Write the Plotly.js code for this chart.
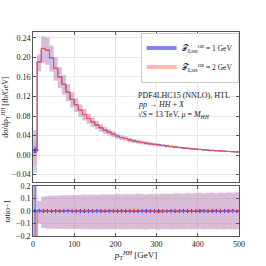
<!DOCTYPE html>
<html><head><meta charset="utf-8">
<script src="https://cdn.plot.ly/plotly-3.0.1.min.js"></script>
<style>html,body{margin:0;padding:0;background:#fff}#chart{width:266px;height:266px}</style>
</head><body><div id="chart"></div>
<script>
const binEdges = [0,10,20,30,40,50,60,70,80,90,100,110,120,130,140,150,160,170,180,190,200,210,220,230,240,250,260,270,280,290,300,310,320,330,340,350,360,370,380,390,400,410,420,430,440,450,460,470,480,490,500];
const blueVals = [0.0103,0.191,0.218,0.215,0.199,0.178,0.160,0.145,0.129,0.114,0.103,0.092,0.083,0.075,0.068,0.062,0.056,0.051,0.047,0.043,0.039,0.036,0.034,0.031,0.029,0.0275,0.026,0.0245,0.023,0.022,0.021,0.0198,0.0187,0.0176,0.0166,0.0157,0.0148,0.0139,0.0131,0.0123,0.0116,0.0109,0.0102,0.0096,0.0090,0.0085,0.0080,0.0075,0.0070,0.0065];
const redVals = [0.0060,0.1902,0.2186,0.2146,0.1998,0.1775,0.1603,0.1450,0.1285,0.1143,0.1031,0.0918,0.0833,0.0749,0.0681,0.0618,0.0560,0.0512,0.0469,0.0430,0.0392,0.0359,0.0341,0.0310,0.0291,0.02765,0.02595,0.0243,0.02302,0.02205,0.02075,0.01985,0.01873,0.01755,0.01668,0.01571,0.01474,0.01398,0.01308,0.01235,0.01172,0.01087,0.01023,0.00968,0.00895,0.00853,0.00798,0.00756,0.00697,0.00652];
const bandUp = [4.0,0.08,0.115,0.12,0.122,0.124,0.125,0.126,0.127,0.128,0.128,0.129,0.13,0.13,0.131,0.131,0.132,0.132,0.133,0.133,0.134,0.134,0.135,0.135,0.135,0.136,0.136,0.137,0.137,0.137,0.138,0.138,0.139,0.139,0.14,0.14,0.141,0.141,0.142,0.142,0.143,0.143,0.144,0.145,0.145,0.146,0.147,0.147,0.148,0.149];
const bandDn = [-4.5,-0.10,-0.135,-0.14,-0.141,-0.142,-0.142,-0.143,-0.143,-0.143,-0.144,-0.144,-0.144,-0.144,-0.145,-0.145,-0.145,-0.145,-0.145,-0.145,-0.145,-0.145,-0.145,-0.145,-0.145,-0.145,-0.145,-0.145,-0.145,-0.145,-0.145,-0.145,-0.145,-0.145,-0.145,-0.145,-0.145,-0.145,-0.145,-0.145,-0.145,-0.145,-0.145,-0.145,-0.145,-0.145,-0.145,-0.145,-0.145,-0.145];
const blueRatioErr = [1.0,0.004,0.003,0.003,0.003,0.003,0.003,0.003,0.003,0.003,0.003,0.003,0.003,0.003,0.003,0.003,0.003,0.003,0.003,0.003,0.003,0.003,0.003,0.003,0.003,0.003,0.003,0.003,0.003,0.003,0.003,0.003,0.003,0.003,0.003,0.003,0.003,0.003,0.003,0.003,0.003,0.003,0.003,0.003,0.003,0.003,0.003,0.003,0.003,0.003];
const legendLabels = ["𝒯<sub>0,res</sub><sup>cut</sup> = 1 GeV","𝒯<sub>0,res</sub><sup>cut</sup> = 2 GeV"];
const mainTicks = [-0.04,0.00,0.04,0.08,0.12,0.16,0.20,0.24];
const ratioTicks = [-0.2,-0.1,0.0,0.1,0.2];
const xTicks = [0,100,200,300,400,500];

const BLUE = '#3a3aff', RED = '#ff5a3c';
const BLUE_FILL = 'rgba(100,100,240,0.30)', RED_FILL = 'rgba(240,140,130,0.28)';
const FONT = 'Liberation Serif, DejaVu Serif, serif';

const step = a => a.concat([a[a.length-1]]);
const centers = binEdges.slice(0,-1).map((e,i)=> (e+binEdges[i+1])/2);
const blueRatio = blueVals.map(()=>0);
const redRatio = redVals.map((v,i)=> v/blueVals[i]-1);

function band(vals, xa, ya, fill){
  const lo = vals.map((v,i)=> v*(1+bandDn[i]));
  const hi = vals.map((v,i)=> v*(1+bandUp[i]));
  return [
    {x:binEdges, y:step(lo), xaxis:xa, yaxis:ya, mode:'lines', line:{width:0, shape:'hv'}, showlegend:false, hoverinfo:'skip'},
    {x:binEdges, y:step(hi), xaxis:xa, yaxis:ya, mode:'lines', line:{width:0, shape:'hv'}, fill:'tonexty', fillcolor:fill, showlegend:false, hoverinfo:'skip'}
  ];
}
function ratioBand(rr, fill){
  const lo = rr.map((r,i)=> (1+r)*(1+bandDn[i])-1);
  const hi = rr.map((r,i)=> (1+r)*(1+bandUp[i])-1);
  return [
    {x:binEdges, y:step(lo), xaxis:'x2', yaxis:'y2', mode:'lines', line:{width:0, shape:'hv'}, showlegend:false, hoverinfo:'skip'},
    {x:binEdges, y:step(hi), xaxis:'x2', yaxis:'y2', mode:'lines', line:{width:0, shape:'hv'}, fill:'tonexty', fillcolor:fill, showlegend:false, hoverinfo:'skip'}
  ];
}

const traces = [].concat(
  band(blueVals,'x','y',BLUE_FILL),
  band(redVals,'x','y',RED_FILL),
  [{x:binEdges, y:step(blueVals), xaxis:'x', yaxis:'y', mode:'lines', line:{color:BLUE, width:1, shape:'hv'}, showlegend:false},
   {x:binEdges, y:step(redVals), xaxis:'x', yaxis:'y', mode:'lines', line:{color:RED, width:1, shape:'hv'}, showlegend:false},
   {x:centers.slice(0,1), y:blueVals.slice(0,1), xaxis:'x', yaxis:'y', mode:'markers', marker:{symbol:'cross-thin', size:5, line:{color:BLUE, width:1}}, error_y:{type:'data', array:[0.004], color:BLUE, thickness:1, width:0}, showlegend:false}],
  ratioBand(blueRatio, BLUE_FILL),
  ratioBand(redRatio, RED_FILL),
  [{x:binEdges, y:step(blueRatio), xaxis:'x2', yaxis:'y2', mode:'lines', line:{color:BLUE, width:1, shape:'hv'}, showlegend:false},
   {x:centers, y:blueRatio, xaxis:'x2', yaxis:'y2', mode:'markers', marker:{symbol:'cross-thin', size:3, line:{color:BLUE, width:1}}, error_y:{type:'data', array:blueRatioErr, color:BLUE, thickness:0.8, width:0}, showlegend:false},
   {x:binEdges, y:step(redRatio), xaxis:'x2', yaxis:'y2', mode:'lines', line:{color:RED, width:1, shape:'hv'}, showlegend:false},
   {x:[null], y:[null], xaxis:'x', yaxis:'y', mode:'lines', line:{color:'rgba(90,90,240,0.75)', width:4}, name:legendLabels[0]},
   {x:[null], y:[null], xaxis:'x', yaxis:'y', mode:'lines', line:{color:'rgba(255,160,140,0.75)', width:4}, name:legendLabels[1]}]
);

const axCommon = {showline:true, mirror:'allticks', linecolor:'#555', linewidth:1, ticks:'inside', ticklen:3, tickcolor:'#555',
  showgrid:true, gridcolor:'#e3e3e3', gridwidth:0.8, zeroline:false, tickfont:{family:FONT, size:8, color:'#222'}};

const layout = {
  width:266, height:266, margin:{l:33, r:27, t:32, b:30},
  paper_bgcolor:'#fff', plot_bgcolor:'#fff',
  font:{family:FONT, size:8, color:'#222'},
  xaxis:Object.assign({}, axCommon, {domain:[0,1], anchor:'y', range:[0,500], tickvals:xTicks, showticklabels:false}),
  yaxis:Object.assign({}, axCommon, {domain:[0.2647,1], anchor:'x', range:[-0.055,0.252], tickvals:mainTicks, tickformat:'.2f',
    title:{text:'dσ/d<i>p</i><sub>T</sub><sup><i>HH</i></sup> [fb/GeV]', font:{family:FONT, size:8}, standoff:4}}),
  xaxis2:Object.assign({}, axCommon, {domain:[0,1], anchor:'y2', range:[0,500], tickvals:xTicks, matches:'x',
    title:{text:'<i>p</i><sub>T</sub><sup><i>HH</i></sup> [GeV]', font:{family:FONT, size:9}, standoff:2}}),
  yaxis2:Object.assign({}, axCommon, {domain:[0,0.245], anchor:'x2', range:[-0.2,0.2], tickvals:ratioTicks, tickformat:'.1f',
    title:{text:'ratio−1', font:{family:FONT, size:8}, standoff:4}}),
  legend:{x:0.998, y:0.997, xref:'paper', yref:'paper', xanchor:'right', yanchor:'top', bgcolor:'#fff', bordercolor:'#ccc', borderwidth:1,
    font:{family:FONT, size:7.5}, itemwidth:30, traceorder:'normal', tracegroupgap:0},
  annotations:[
    {xref:'x', yref:'y', x:250, y:0.123, text:'PDF4LHC15 (NNLO), HTL', showarrow:false, xanchor:'left', yanchor:'middle', font:{family:FONT, size:8}},
    {xref:'x', yref:'y', x:250, y:0.1035, text:'<i>pp</i> → <i>HH</i> + <i>X</i>', showarrow:false, xanchor:'left', yanchor:'middle', font:{family:FONT, size:8}},
    {xref:'x', yref:'y', x:250, y:0.082, text:'√<i>S</i> = 13 TeV, <i>μ</i> = <i>M</i><sub><i>HH</i></sub>', showarrow:false, xanchor:'left', yanchor:'middle', font:{family:FONT, size:8}}
  ]
};

Plotly.newPlot('chart', traces, layout, {staticPlot:true, displayModeBar:false});
</script>
</body></html>
